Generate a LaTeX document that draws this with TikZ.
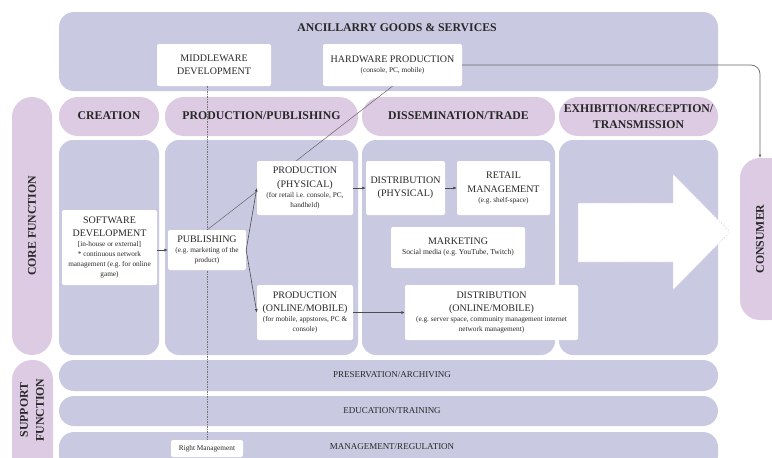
\documentclass[tikz,border=0pt]{standalone}
\usepackage{fontspec}
\setmainfont{Liberation Serif}
\usetikzlibrary{arrows.meta}
\definecolor{bandblue}{RGB}{201,201,226}
\definecolor{tabpink}{RGB}{221,202,227}
\definecolor{inkgray}{RGB}{40,40,40}
\newcommand{\boxhd}{\fontsize{10}{13.5}\selectfont}
\newcommand{\boxsm}{\fontsize{7.3}{10}\selectfont}
\newcommand{\headfs}{\fontsize{11.8}{16}\selectfont\bfseries}
\newcommand{\barfs}{\fontsize{9}{11}\selectfont}
\frenchspacing

\begin{document}
\begin{tikzpicture}[x=1pt, y=-1pt, >={Latex[length=3.5pt,width=3pt]},
    every node/.style={text=inkgray},
    whitebox/.style={fill=white, rounded corners=2pt, align=flush center, inner xsep=2pt, inner ysep=1pt},
    band/.style={fill=bandblue},
    tab/.style={fill=tabpink},
    flow/.style={->, draw=black!70, line width=0.6pt},
    guide/.style={draw=black!55, line width=0.5pt, dash pattern=on 1.5pt off 1pt},
    link/.style={draw=black!60, line width=0.5pt}]
    \useasboundingbox (0,0) rectangle (772,458);
    \clip (0,0) rectangle (772,458);

    % ancillary goods band
    \fill[band, rounded corners=15pt] (59,12) rectangle (718,91);
    \node[font=\headfs] (anc) at (397,28) {ANCILLARRY GOODS \& SERVICES};

    % stage tabs
    \fill[tab, rounded corners=19pt] (59,97) rectangle (159,136);
    \fill[tab, rounded corners=19pt] (165,97) rectangle (358,136);
    \fill[tab, rounded corners=19pt] (362,97) rectangle (555,136);
    \fill[tab, rounded corners=19pt] (559,97) rectangle (718,136);
    \node[font=\headfs] (creation) at (109,116) {CREATION};
    \node[font=\headfs] (prodpub) at (261.5,116) {PRODUCTION/PUBLISHING};
    \node[font=\headfs] (dissem) at (458.5,116) {DISSEMINATION/TRADE};
    \node[font=\headfs, align=center] (exhib) at (638.5,117) {EXHIBITION/RECEPTION/\\TRANSMISSION};

    % side labels
    \fill[tab, rounded corners=20pt] (12,97) rectangle (52,355);
    \node[font=\headfs, rotate=90] (core) at (32,226) {CORE FUNCTION};
    \fill[tab, rounded corners=20pt] (12,360) rectangle (53,480);
    \node[font=\headfs, rotate=90, align=center] (support) at (32,410) {SUPPORT\\FUNCTION};
    \fill[tab, rounded corners=20pt] (740,158) rectangle (790,320);
    \node[font=\headfs, rotate=90] (consumer) at (760,239) {CONSUMER};

    % core columns
    \fill[band, rounded corners=14pt] (59,140) rectangle (159,355);
    \fill[band, rounded corners=14pt] (165,140) rectangle (358,355);
    \fill[band, rounded corners=14pt] (362,140) rectangle (555,355);
    \fill[band, rounded corners=14pt] (559,140) rectangle (718,355);

    % support bars
    \fill[band, rounded corners=15pt] (59,360) rectangle (718,391);
    \fill[band, rounded corners=15pt] (59,396) rectangle (718,426);
    \fill[band, rounded corners=15pt] (59,432) rectangle (718,470);
    \node[font=\barfs] (preserv) at (392,375) {PRESERVATION/ARCHIVING};
    \node[font=\barfs] (educ) at (392,411) {EDUCATION/TRAINING};
    \node[font=\barfs] (manage) at (392,447) {MANAGEMENT/REGULATION};

    % big arrow towards the consumer
    \filldraw[fill=white, draw=tabpink, line width=0.6pt, dash pattern=on 1pt off 1.5pt]
        (578,203) -- (673,203) -- (673,174) -- (730,232) -- (673,290) -- (673,262) -- (578,262) -- cycle;

    % boxes
    \node[whitebox, minimum width=114pt, minimum height=42pt, text width=110pt] (mw) at (214,65)
        {\boxhd MIDDLEWARE\\DEVELOPMENT\par};
    \node[whitebox, minimum width=139pt, minimum height=42pt, text width=135pt] (hw) at (392.5,65)
        {\boxhd HARDWARE PRODUCTION\par\boxsm (console, PC, mobile)\par};
    \node[whitebox, minimum width=72pt, minimum height=17pt, text width=68pt] (rgt) at (207,448.5)
        {\boxsm Right Management\par};

    % links behind the boxes
    \draw[guide] (rgt.north |- mw.south) -- (rgt.north);
    \draw[link] (rgt.north |- 0,230) -- (hw.south);
    \coordinate (constop) at (760,158);
    \draw[link, ->, line width=0.7pt, rounded corners=9pt] (hw.east) -| (constop);

    \node[whitebox, minimum width=95pt, minimum height=75pt, text width=91pt] (swdev) at (109.5,247.5)
        {\boxhd SOFTWARE\\DEVELOPMENT\par\boxsm [in-house or external]\\{*} continuous network\\management (e.g. for online\\game)\par};
    \node[whitebox, minimum width=78pt, minimum height=40pt, text width=74pt] (pub) at (207,250)
        {\boxhd PUBLISHING\par\boxsm (e.g. marketing of the\\product)\par};
    \node[whitebox, minimum width=96pt, minimum height=54pt, text width=92pt] (prodphys) at (305,188)
        {\boxhd PRODUCTION\\(PHYSICAL)\par\boxsm (for retail i.e. console, PC,\\handheld)\par};
    \node[whitebox, minimum width=96pt, minimum height=55pt, text width=92pt] (prodonl) at (305,312.5)
        {\boxhd PRODUCTION\\(ONLINE/MOBILE)\par\boxsm (for mobile, appstores, PC \&\\console)\par};
    \node[whitebox, minimum width=79pt, minimum height=54pt, text width=75pt] (distphys) at (405.5,188)
        {\boxhd DISTRIBUTION\\(PHYSICAL)\par};
    \node[whitebox, minimum width=93pt, minimum height=54pt, text width=89pt] (retail) at (503.5,188)
        {\boxhd RETAIL\\MANAGEMENT\par\boxsm (e.g. shelf-space)\par};
    \node[whitebox, minimum width=134pt, minimum height=41pt, text width=130pt] (mkt) at (458,247.5)
        {\boxhd MARKETING\par\fontsize{7.6}{10}\selectfont Social media (e.g. YouTube, Twitch)\par};
    \node[whitebox, minimum width=173pt, minimum height=55pt, text width=169pt] (distonl) at (491.5,312.5)
        {\boxhd DISTRIBUTION\\(ONLINE/MOBILE)\par\boxsm (e.g. server space, community management internet\\network management)\par};

    % flow arrows
    \draw[flow] (swdev.east |- pub.west) -- (pub.west);
    \draw[flow] (pub.east) -- (prodphys.west);
    \draw[flow] (pub.east) -- (prodonl.west);
    \draw[flow] (prodphys.east) -- (distphys.west);
    \draw[flow] (distphys.east) -- (retail.west);
    \draw[flow] (prodonl.east) -- (distonl.west |- prodonl.east);
\end{tikzpicture}
\end{document}
